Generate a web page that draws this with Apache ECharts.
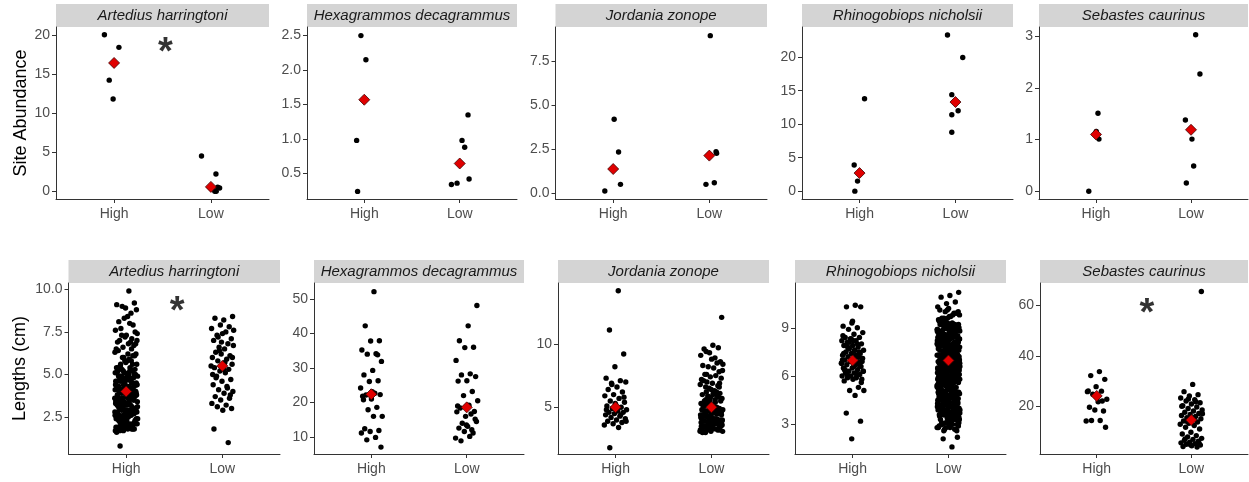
<!DOCTYPE html>
<html>
<head>
<meta charset="utf-8">
<script src="https://cdn.jsdelivr.net/npm/echarts@6/dist/echarts.min.js"></script>
<style>
  html, body { margin: 0; padding: 0; background: #ffffff; }
  #chart { width: 1249px; height: 482px; }
</style>
</head>
<body>
<div id="chart"></div>
<script>
// ---------- data ----------
const species = ['Artedius harringtoni', 'Hexagrammos decagrammus', 'Jordania zonope', 'Rhinogobiops nicholsii', 'Sebastes caurinus'];
const groups = ['High', 'Low'];

// Site abundance, one list per species
const abundHigh = [
  [20.0, 18.4, 14.2, 11.8],
  [2.50, 2.15, 0.98, 0.24],
  [4.2, 2.34, 0.51, 0.13],
  [13.8, 3.9, 1.5, 0.0],
  [1.51, 1.16, 1.01, 0.0]
];
const abundHighJitter = [
  [-0.10, 0.05, -0.05, -0.01],
  [-0.035, 0.017, -0.08, -0.07],
  [0.01, 0.056, 0.076, -0.087],
  [0.052, -0.056, -0.021, -0.049],
  [0.021, 0.003, 0.031, -0.076]
];
const abundLow = [
  [4.5, 2.2, 0.5, 0.4, 0.0, 0.0],
  [1.35, 0.98, 0.88, 0.42, 0.36, 0.34],
  [8.94, 2.36, 2.27, 0.6, 0.51],
  [23.3, 19.95, 14.4, 12.0, 11.4, 8.8],
  [3.03, 2.27, 1.38, 1.01, 0.49, 0.16]
];
const abundLowJitter = [
  [-0.097, 0.052, 0.07, 0.09, 0.04, 0.055],
  [0.087, 0.024, 0.052, 0.098, -0.028, -0.087],
  [0.01, 0.07, 0.076, 0.052, -0.035],
  [-0.083, 0.076, -0.038, 0.028, -0.038, -0.038],
  [0.049, 0.094, -0.059, 0.01, 0.028, -0.049]
];
const abundMean = [[16.4, 0.55], [1.57, 0.645], [1.38, 2.14], [2.7, 13.3], [1.1, 1.19]];
const abundTicks = [[0, 5, 10, 15, 20], [0.5, 1.0, 1.5, 2.0, 2.5], [0, 2.5, 5, 7.5], [0, 5, 10, 15, 20], [0, 1, 2, 3]];
const abundTickDecimals = [0, 1, 1, 0, 0];

// Lengths (cm)
const artediusHigh = [9.9, 0.8, 9.2, 8.9, 9.1, 8.6, 9.0, 8.8, 8.4, 8.1, 7.9, 8.3, 7.6, 8.0, 7.7, 7.5,
  7.3, 6.9, 7.1, 6.6, 7.4, 6.8, 7.0, 6.7, 7.2, 6.5, 6.9, 7.3,
  6.2, 5.8, 6.4, 5.6, 6.0, 6.3, 5.9, 5.5, 6.1, 5.7, 6.4, 5.8, 6.0, 5.6, 6.2,
  5.3, 4.8, 5.1, 4.6, 5.4, 4.9, 5.0, 4.7, 5.2, 4.5, 5.2, 4.9, 5.1, 4.7, 5.0, 4.8, 5.4, 4.6, 5.3, 4.5, 5.0, 4.9, 5.2, 4.6, 5.1, 4.8, 4.7, 5.3,
  4.3, 3.8, 4.1, 3.6, 4.4, 3.9, 4.0, 3.7, 4.2, 3.5, 4.2, 3.9, 4.0, 3.7, 4.1, 3.8, 4.4, 3.6, 4.3, 3.5, 4.0, 3.9, 4.2, 3.7, 4.1, 3.8, 3.6, 4.3, 4.0, 3.9, 4.4, 3.7, 4.1, 3.8,
  3.3, 2.8, 3.1, 2.6, 3.4, 2.9, 3.0, 2.7, 3.2, 2.5, 3.2, 2.9, 3.0, 2.7, 3.1, 2.8, 3.4, 2.6, 3.3, 2.5, 3.0, 2.9, 3.2, 2.7, 3.1, 2.8, 2.6, 3.3, 3.0, 2.9, 3.4, 2.7, 3.1, 2.8,
  2.3, 1.9, 2.1, 1.7, 2.4, 2.0, 2.2, 1.8, 2.2, 1.6, 2.0, 1.9, 2.4, 2.1, 2.3, 1.8, 2.2, 1.7, 2.1, 2.0, 2.3, 1.9, 2.4, 1.8, 2.0, 2.1, 2.5, 2.6, 3.5, 4.5,
  2.4, 3.7, 4.9, 2.1, 3.2, 5.4, 1.9, 4.2, 2.8, 3.5, 4.6, 2.2, 3.9, 5.1, 2.6, 3.0, 4.4, 1.8, 3.6, 4.8, 2.5, 3.3,
  5.2, 2.0, 4.0, 2.9, 3.8, 4.5, 2.3, 3.1, 5.0, 1.7, 4.3, 2.7, 3.4, 5.3, 2.1, 3.9, 4.7, 2.4, 6.1, 3.2, 4.1, 2.6,
  5.6, 3.7, 2.2, 4.6, 6.5, 3.0, 7.0, 2.8, 4.9, 3.5, 5.8, 1.9, 4.2, 3.3, 6.8, 2.5];
const artediusLow = [8.4, 8.2, 8.3, 7.8, 7.9, 7.7, 7.5, 7.3, 7.1, 7.4, 7.0, 6.8, 6.6, 6.7, 6.5, 6.3, 6.1, 6.2, 6.0,
  5.9, 5.8, 5.6, 5.5, 5.4, 5.3, 5.2, 5.5, 5.1, 4.9, 4.7, 4.6, 4.4, 4.2, 4.1, 4.0, 3.9, 3.7, 3.6, 3.5, 3.3,
  3.2, 3.1, 3.0, 2.9, 1.8, 1.0, 6.4, 7.6, 5.7, 4.8, 3.8, 6.9, 5.0, 4.3, 7.2, 6.0, 5.3];
const hexHigh = [52.1, 42.2, 37.9, 37.8, 35.2, 34.1, 34.0, 31.9, 29.3, 28.0, 26.3, 26.1, 24.2, 22.7, 22.2, 22.3,
  21.0, 21.8, 18.6, 17.9, 16.0, 16.0, 12.4, 11.9, 11.6, 11.2, 9.9, 9.2, 7.1, 23.1, 20.8, 33.8];
const hexLow = [48.1, 42.2, 37.9, 36.0, 35.9, 32.2, 28.3, 28.0, 27.5, 26.3, 26.2, 23.2, 22.0, 20.5, 19.2, 18.4,
  17.4, 16.0, 17.3, 16.7, 14.0, 14.5, 13.1, 12.6, 11.2, 11.6, 9.7, 10.2, 8.9, 15.2, 13.5, 19.0, 12.1];
const jordaniaHigh = [14.2, 11.1, 9.2, 8.2, 7.3, 7.1, 6.9, 7.0, 6.6, 6.4, 6.2, 6.0, 5.9, 5.7, 5.5, 5.4, 5.2, 5.1,
  5.0, 4.9, 4.8, 4.7, 4.6, 4.6, 4.5, 4.4, 4.3, 4.2, 4.1, 4.0, 3.9, 3.8, 3.7, 3.6, 3.4, 1.8, 5.8, 5.3, 4.8, 4.4, 6.8, 3.9];
const jordaniaLow = [12.1, 9.9, 9.6, 9.7, 9.3, 9.1, 8.9, 9.4, 8.6, 8.8, 8.3, 8.5, 8.2, 7.9, 8.1, 7.6, 7.8, 7.4,
  7.2, 7.5, 7.0, 7.3, 6.9, 7.1, 6.7, 6.5, 6.8, 6.3, 6.6, 6.1, 6.4, 6.0, 6.2, 5.9, 5.7, 6.0, 5.5, 5.8, 5.6, 5.3,
  5.4, 5.2, 5.5, 5.0, 5.1, 4.9, 5.3, 4.8, 5.0, 4.7, 4.9, 4.6, 4.8, 4.5, 4.7, 4.4, 4.6, 4.3, 4.5, 4.2, 4.4, 4.1,
  4.3, 4.0, 4.2, 3.9, 4.1, 3.8, 4.0, 3.7, 3.9, 3.6, 3.8, 3.5, 3.7, 3.4, 3.6, 3.3, 3.5, 3.2, 3.4, 3.1, 3.3, 3.0,
  3.2, 3.1, 4.4, 4.0, 3.6, 3.9, 4.7, 5.1, 3.3, 3.5, 4.2, 5.6, 6.2, 4.5, 3.8, 3.4, 4.8, 5.4, 3.1, 3.7, 4.3, 6.6,
  5.8, 4.1, 3.9, 3.2,
  4.6, 3.4, 5.2, 3.9, 4.1, 3.2, 4.8, 5.6, 3.7, 4.4, 3.0, 5.0, 4.2, 3.6, 6.1, 4.7, 3.3, 5.4, 3.8, 4.0, 7.6, 3.5,
  4.9, 3.1, 5.9, 4.3, 8.4, 3.9, 4.5, 6.9];
const rhinoHigh = [10.4, 10.3, 10.3, 9.3, 9.1, 9.0, 8.9, 8.7, 8.6, 8.4, 8.4, 8.3, 8.2, 8.2, 8.1, 8.0, 7.9, 7.9,
  7.8, 7.7, 7.6, 7.6, 7.5, 7.4, 7.4, 7.3, 7.2, 7.2, 7.1, 7.0, 7.0, 6.9, 6.9, 6.8, 6.7, 6.7, 6.6, 6.5, 6.5, 6.4,
  6.3, 6.3, 6.2, 6.2, 6.1, 6.0, 6.0, 5.9, 5.9, 5.8, 5.8, 5.7, 5.3, 5.1, 5.1, 4.8, 3.7, 3.2, 2.1, 8.5, 8.0, 7.7,
  7.1, 6.6, 6.4, 7.5, 8.3, 6.8, 7.3, 6.1, 5.6, 9.4,
  7.4, 6.8, 8.1, 6.3, 7.6, 7.9, 6.6, 8.3, 7.0, 6.1, 7.8, 6.9, 8.2, 6.4, 7.2];
const rhinoLow = [11.2, 11.0, 10.9, 10.6, 10.5, 10.3, 1.6, 2.1, 2.2,
  10.2, 10.1, 9.9, 10.0, 9.8, 9.7, 9.6, 9.9, 10.1, 9.5, 9.8, 9.6, 10.0, 9.7,
  9.4, 9.2, 9.0, 8.8, 8.6, 9.3, 9.1, 8.9, 8.7, 8.5, 9.4, 9.0, 8.6, 9.2, 8.8, 9.1, 8.7, 9.3, 8.9, 8.5, 9.0, 9.2,
  8.6, 9.4, 8.8, 9.1, 8.7, 8.9, 9.3, 8.5, 9.0, 8.6, 9.2, 8.8, 9.4, 8.7, 9.1, 8.9, 8.5, 9.3, 9.0, 8.6, 8.8, 9.2, 9.1,
  8.3, 7.9, 8.1, 7.6, 8.4, 7.7, 8.0, 7.5, 8.2, 7.8, 8.1, 7.6, 8.3, 8.0, 7.7, 8.4, 7.9, 7.5, 8.2, 7.8, 8.0, 7.6,
  8.3, 7.9, 8.1, 7.7, 8.4, 7.5, 8.2, 8.0, 7.8, 7.6, 8.1, 7.9, 8.3, 7.7, 8.0, 7.5, 8.2, 7.8, 8.4, 7.6, 8.1, 7.9,
  8.3, 8.0, 7.7, 8.2, 7.8, 7.5, 8.4, 7.6, 8.1, 7.9, 8.0,
  7.2, 6.8, 7.0, 6.6, 7.4, 6.9, 7.1, 6.5, 7.3, 6.7, 7.0, 6.8, 7.2, 6.6, 7.4, 6.9, 7.1, 6.5, 7.3, 6.7, 6.9, 7.0,
  6.6, 7.2, 6.8, 7.4, 6.5, 7.1, 6.7, 7.3, 6.9, 7.0, 6.6, 7.2, 6.8, 7.4, 6.5, 7.1, 6.7, 7.3, 6.9, 7.0, 6.8, 7.2,
  6.6, 7.1, 6.7, 7.3, 6.5, 7.0, 6.9, 7.4, 6.8,
  6.3, 5.9, 6.1, 5.6, 6.4, 5.8, 6.0, 5.5, 6.2, 5.7, 6.3, 5.9, 6.1, 5.6, 6.4, 5.8, 6.0, 5.5, 6.2, 5.7, 6.1, 5.9,
  6.3, 5.6, 6.0, 5.8, 6.4, 5.5, 6.2, 5.7, 6.1, 5.9, 6.3, 5.6, 6.0, 5.8, 6.4, 5.5, 6.2, 5.7, 6.1, 5.9, 6.0, 5.8, 6.3,
  5.2, 4.8, 5.0, 4.6, 5.4, 4.9, 5.1, 4.5, 5.3, 4.7, 5.2, 4.8, 5.0, 4.6, 5.4, 4.9, 5.1, 4.5, 5.3, 4.7,
  5.0, 4.8, 5.2, 4.6, 5.4, 4.9, 5.1, 4.5, 5.3, 4.7, 5.2, 4.9, 5.0, 4.6, 5.4, 4.8, 5.1, 4.5, 5.3, 4.7,
  4.3, 3.9, 4.1, 3.6, 4.4, 3.8, 4.0, 3.5, 4.2, 3.7, 4.3, 3.9, 4.1, 3.6, 4.4, 3.8, 4.0, 3.5, 4.2, 3.7,
  4.1, 3.9, 4.3, 3.6, 4.0, 3.8, 4.4, 3.5, 4.2, 3.7, 4.1, 3.9, 4.3, 3.6, 4.0, 3.8, 4.4, 3.5, 4.2, 3.7,
  3.3, 2.9, 3.1, 2.7, 3.4, 2.8, 3.0, 2.6, 3.2, 2.9, 3.3, 2.7, 3.1, 2.8, 3.4, 3.0, 2.6, 3.2, 2.9, 3.3, 2.7, 3.1, 2.8, 3.0, 3.4,
  8.2, 6.4, 9.1, 3.8, 7.3, 5.2, 8.7, 4.4, 6.9, 7.8, 3.1, 9.4, 5.7, 8.0, 4.9, 6.2, 7.5, 2.9, 8.5, 5.4, 7.0, 9.0,
  4.1, 6.6, 8.3, 3.5, 7.7, 5.9, 8.9, 4.6, 6.1, 7.2, 9.3, 3.3, 8.1, 5.0, 6.8, 7.9, 4.3, 8.6, 5.6, 7.4, 9.2, 3.9,
  6.5, 8.4, 4.8, 7.1, 5.3, 8.8, 3.6, 6.3, 7.6, 9.5, 4.2, 8.0, 5.8, 6.7, 7.3, 3.0, 8.2, 5.1, 9.0, 4.5, 7.0, 6.0,
  8.7, 3.7, 7.8, 5.5, 6.4, 9.1, 4.0, 8.3, 6.9, 7.5, 2.8, 8.9, 5.2, 6.2, 7.7, 4.7, 9.4, 5.9, 8.5, 3.4, 7.2, 6.6,
  8.1, 4.4, 7.9, 5.4, 9.3, 6.1, 3.2, 8.6, 7.4, 5.0, 6.8, 8.8, 4.1, 7.1, 9.6, 5.7, 3.9, 8.4, 6.3, 7.6];
const sebastesHigh = [33.7, 32.1, 30.6, 27.7, 25.7, 25.9, 24.7, 22.7, 21.7, 19.5, 18.0, 18.4, 14.0, 14.2, 14.2, 11.5, 23.7, 26.0, 22.0];
const sebastesLow = [65.6, 28.6, 25.7, 24.5, 24.0, 23.2, 22.5, 22.0, 21.3, 20.8, 20.1, 19.6, 19.0, 18.4, 18.0, 17.5,
  17.0, 16.6, 16.2, 15.8, 15.3, 14.9, 14.4, 14.0, 13.6, 13.1, 12.7, 12.2, 11.5, 10.8, 9.5, 8.8, 8.2, 7.7, 7.1,
  6.7, 6.3, 6.0, 5.6, 5.3, 5.0, 4.7, 4.4, 4.1, 3.8, 3.6, 22.8, 16.9, 14.6, 6.9, 5.2, 4.5, 19.9, 21.7, 13.8];
const lengthHigh = [artediusHigh, hexHigh, jordaniaHigh, rhinoHigh, sebastesHigh];
const lengthLow = [artediusLow, hexLow, jordaniaLow, rhinoLow, sebastesLow];
const lengthMean = [[4.0, 5.5], [22.4, 18.6], [5.0, 5.0], [6.97, 6.97], [24.0, 14.4]];
const lengthTicks = [[2.5, 5.0, 7.5, 10.0], [10, 20, 30, 40, 50], [5, 10], [3, 6, 9], [20, 40, 60]];
const lengthTickDecimals = [1, 0, 0, 0, 0];

// significant differences between High and Low
const sigMarks = [
  { row: 0, panel: 0, y: 18.9 },
  { row: 1, panel: 0, y: 9.2 },
  { row: 1, panel: 4, y: 60.5 }
];

// ---------- layout ----------
const FONT = 'Liberation Sans, Arial, Helvetica, sans-serif';
const rows = [
  {
    title: 'Site Abundance', titleGap: 26, top: 27, height: 172, stripTop: 4,
    cols: [[56, 269], [307, 517], [555.5, 767], [802, 1013], [1039, 1248]],
    yRange: [[-1, 21], [0.13, 2.625], [-0.32, 9.43], [-1.17, 24.5], [-0.15, 3.18]],
    ticks: abundTicks, decimals: abundTickDecimals
  },
  {
    title: 'Lengths (cm)', titleGap: 39, top: 283, height: 171, stripTop: 260,
    cols: [[68.5, 280], [314, 524], [558, 769], [795, 1006], [1040, 1248]],
    yRange: [[0.33, 10.37], [5.1, 54.6], [1.31, 14.81], [1.16, 11.78], [0.86, 69.0]],
    ticks: lengthTicks, decimals: lengthTickDecimals
  }
];
const STRIP_H = 23;
const JITTER_HALF = 0.12;
// horizontal spread for the dense length strips (evenly scattered offsets)
const spread = i => ((((i + 1) * 0.6180339887) % 1) - 0.5) * 2 * JITTER_HALF;

const grids = [], xAxes = [], yAxes = [], series = [], graphics = [];
const axisColor = '#333333';

rows.forEach((row, r) => {
  row.cols.forEach((c, p) => {
    const gi = grids.length;
    grids.push({ left: c[0], top: row.top, width: c[1] - c[0], height: row.height, outerBoundsMode: 'none' });

    xAxes.push({
      gridIndex: gi, type: 'value', min: 0.4, max: 2.6,
      axisLine: { show: true, onZero: false, lineStyle: { color: axisColor, width: 1 } },
      axisTick: { show: true, customValues: [1, 2], length: 4, lineStyle: { color: axisColor } },
      axisLabel: { customValues: [1, 2], formatter: v => groups[Math.round(v) - 1], color: '#4d4d4d', fontSize: 14, fontFamily: FONT, margin: 8 },
      splitLine: { show: false }
    });

    const dec = row.decimals[p];
    yAxes.push({
      gridIndex: gi, type: 'value', min: row.yRange[p][0], max: row.yRange[p][1],
      name: p === 0 ? row.title : '', nameLocation: 'middle', nameGap: row.titleGap,
      nameTextStyle: { fontSize: 18, color: '#000', fontFamily: FONT },
      axisLine: { show: true, onZero: false, lineStyle: { color: axisColor, width: 1 } },
      axisTick: { show: true, customValues: row.ticks[p], length: 4, lineStyle: { color: axisColor } },
      axisLabel: { customValues: row.ticks[p], formatter: v => Number(v).toFixed(dec), color: '#4d4d4d', fontSize: 14, fontFamily: FONT, margin: 6 },
      splitLine: { show: false }
    });

    // points
    const pts = [];
    if (r === 0) {
      abundHigh[p].forEach((v, i) => pts.push([1 + abundHighJitter[p][i], v]));
      abundLow[p].forEach((v, i) => pts.push([2 + abundLowJitter[p][i], v]));
    } else {
      lengthHigh[p].forEach((v, i) => pts.push([1 + spread(i), v]));
      lengthLow[p].forEach((v, i) => pts.push([2 + spread(i + 7), v]));
    }
    series.push({
      type: 'scatter', xAxisIndex: gi, yAxisIndex: gi, data: pts,
      symbol: 'circle', symbolSize: 5.4, itemStyle: { color: '#000000', opacity: 1 }, z: 2, silent: true
    });

    // group means
    const means = r === 0 ? abundMean[p] : lengthMean[p];
    series.push({
      type: 'scatter', xAxisIndex: gi, yAxisIndex: gi,
      data: [[1, means[0]], [2, means[1]]],
      symbol: 'diamond', symbolSize: 11,
      itemStyle: { color: '#e00000', borderColor: '#400000', borderWidth: 0.8, opacity: 1 }, z: 3, silent: true
    });

    // facet strip
    graphics.push({
      type: 'rect', left: c[0], top: row.stripTop, silent: true,
      shape: { width: c[1] - c[0], height: STRIP_H }, style: { fill: '#d4d4d4' }
    });
    graphics.push({
      type: 'text', silent: true, x: (c[0] + c[1]) / 2, y: row.stripTop + STRIP_H / 2,
      style: { text: species[p], fill: '#1a1a1a', fontSize: 15, fontStyle: 'italic', fontFamily: FONT, align: 'center', verticalAlign: 'middle' }
    });
  });
});

sigMarks.forEach(m => {
  const gi = m.row * 5 + m.panel;
  series.push({
    type: 'scatter', xAxisIndex: gi, yAxisIndex: gi, data: [[1.53, m.y]],
    symbol: 'circle', symbolSize: 1, itemStyle: { color: 'rgba(0,0,0,0)' }, z: 4, silent: true,
    label: { show: true, position: 'inside', formatter: '*', fontSize: 38, fontWeight: 'bold', color: '#000000',
      fontFamily: FONT, offset: [0, 10] }
  });
});

const chart = echarts.init(document.getElementById('chart'), null, { renderer: 'canvas' });
chart.setOption({
  animation: false,
  backgroundColor: '#ffffff',
  grid: grids,
  xAxis: xAxes,
  yAxis: yAxes,
  series: series,
  graphic: graphics
});
</script>
</body>
</html>
